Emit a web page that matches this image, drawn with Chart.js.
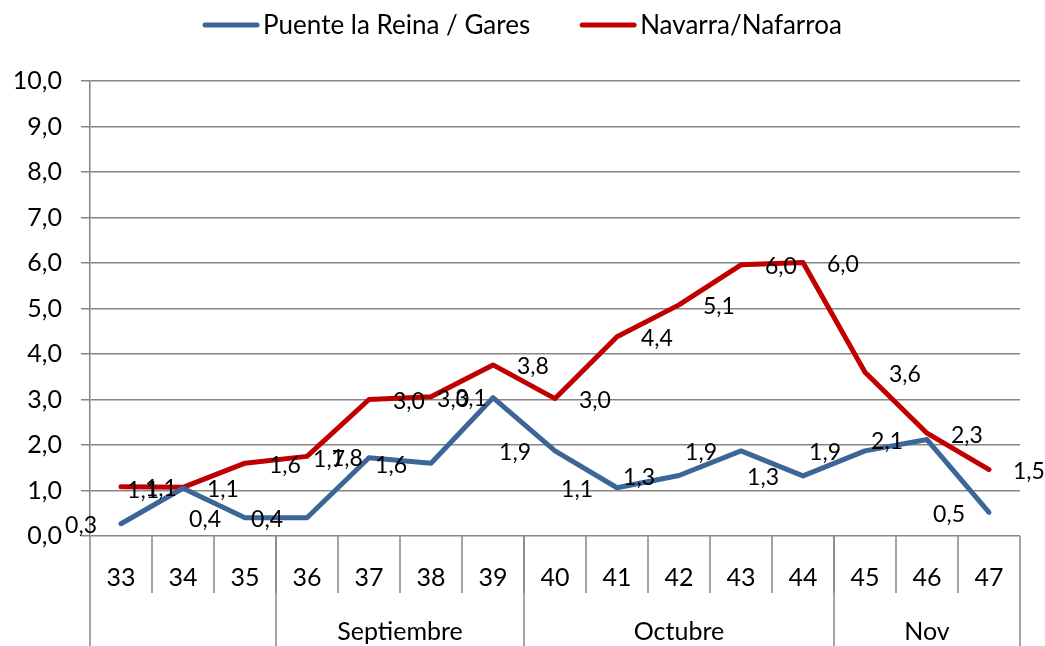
<!DOCTYPE html>
<html>
<head>
<meta charset="utf-8">
<script src="https://cdn.jsdelivr.net/npm/chart.js@4/dist/chart.umd.min.js"></script>
<style>
  html, body { margin: 0; padding: 0; background: #fff; }
  #wrap { width: 1045px; height: 646px; position: relative; }
</style>
</head>
<body>
<div id="wrap"><canvas id="chart"></canvas></div>
<script>
// Week numbers and the month groups below them
const weeks = ['33', '34', '35', '36', '37', '38', '39', '40', '41', '42', '43', '44', '45', '46', '47'];
const monthLabels = ['', 'Septiembre', 'Octubre', 'Nov'];
const monthSpans = [3, 4, 5, 3];

// Series values
const puenteLaReina = [0.27, 1.05, 0.4, 0.4, 1.72, 1.6, 3.04, 1.87, 1.06, 1.33, 1.87, 1.32, 1.87, 2.12, 0.52];
const navarra = [1.08, 1.07, 1.6, 1.75, 3.0, 3.06, 3.76, 3.02, 4.38, 5.08, 5.96, 6.01, 3.6, 2.26, 1.46];

const yTicks = [0, 1, 2, 3, 4, 5, 6, 7, 8, 9, 10];

const FONT = 'Lato, "Open Sans", sans-serif';
const GRID = '#868686';

function fmt(v) {
  return v.toFixed(1).replace('.', ',');
}

// legend drawn by hand so the gap under it matches
const topLegend = {
  id: 'topLegend',
  afterDraw(chart) {
    const ctx = chart.ctx;
    const sets = chart.data.datasets;
    ctx.save();
    ctx.font = '26px ' + FONT;
    ctx.textBaseline = 'middle';
    ctx.textAlign = 'left';
    const lineW = 56, gap = 4, between = 50;
    const widths = sets.map(ds => ctx.measureText(ds.label).width);
    let total = 0;
    widths.forEach((w, i) => { total += lineW + gap + w + (i ? between : 0); });
    let x = (chart.width - total) / 2;
    const y = 25;
    sets.forEach((ds, i) => {
      ctx.strokeStyle = ds.borderColor;
      ctx.lineWidth = 5;
      ctx.lineCap = 'round';
      ctx.beginPath();
      ctx.moveTo(x + 2, y);
      ctx.lineTo(x + lineW - 2, y);
      ctx.stroke();
      ctx.fillStyle = '#000';
      ctx.fillText(ds.label, x + lineW + gap, y + 1);
      x += lineW + gap + widths[i] + between;
    });
    ctx.restore();
  }
};

// value labels: blue to the left of the point, red to the right
const valueLabels = {
  id: 'valueLabels',
  afterDatasetsDraw(chart) {
    const ctx = chart.ctx;
    ctx.save();
    ctx.font = '23px ' + FONT;
    ctx.fillStyle = '#000';
    ctx.textBaseline = 'middle';
    chart.data.datasets.forEach((ds, i) => {
      const meta = chart.getDatasetMeta(i);
      meta.data.forEach((pt, j) => {
        const txt = fmt(ds.data[j]);
        if (i === 0) {
          ctx.textAlign = 'right';
          ctx.fillText(txt, pt.x - 24, pt.y + 2);
        } else {
          ctx.textAlign = 'left';
          ctx.fillText(txt, pt.x + 24, pt.y + 2);
        }
      });
    });
    ctx.restore();
  }
};

// two level category axis like the spreadsheet one
const groupAxis = {
  id: 'groupAxis',
  afterDraw(chart) {
    const ctx = chart.ctx;
    const x = chart.scales.x;
    const area = chart.chartArea;
    const half = (x.getPixelForValue(1) - x.getPixelForValue(0)) / 2;
    const rowBottom = area.bottom + 57;
    const bottom = chart.height;
    ctx.save();
    ctx.strokeStyle = GRID;
    ctx.lineWidth = 1.5;
    ctx.fillStyle = '#000';
    ctx.font = '25px ' + FONT;
    ctx.textAlign = 'center';
    ctx.textBaseline = 'middle';

    // week separators and labels
    weeks.forEach((w, i) => {
      const cx = x.getPixelForValue(i);
      ctx.fillText(w, cx, area.bottom + 42);
      if (i > 0) {
        ctx.beginPath();
        ctx.moveTo(cx - half, area.bottom);
        ctx.lineTo(cx - half, rowBottom);
        ctx.stroke();
      }
    });

    // month groups
    let start = 0;
    monthSpans.forEach((n, g) => {
      const left = x.getPixelForValue(start) - half;
      const right = x.getPixelForValue(start + n - 1) + half;
      ctx.beginPath();
      ctx.moveTo(left, area.bottom);
      ctx.lineTo(left, bottom);
      ctx.stroke();
      if (g === monthSpans.length - 1) {
        ctx.beginPath();
        ctx.moveTo(right, area.bottom);
        ctx.lineTo(right, bottom);
        ctx.stroke();
      }
      ctx.fillText(monthLabels[g], (left + right) / 2, area.bottom + 96);
      start += n;
    });
    ctx.restore();
  }
};

new Chart(document.getElementById('chart'), {
  type: 'line',
  data: {
    labels: weeks,
    datasets: [
      {
        label: 'Puente la Reina / Gares',
        data: puenteLaReina,
        borderColor: '#3C6698',
        backgroundColor: '#3C6698',
        borderWidth: 5,
        pointRadius: 0,
        tension: 0,
        borderJoinStyle: 'round',
        borderCapStyle: 'round'
      },
      {
        label: 'Navarra/Nafarroa',
        data: navarra,
        borderColor: '#C00000',
        backgroundColor: '#C00000',
        borderWidth: 5,
        pointRadius: 0,
        tension: 0,
        borderJoinStyle: 'round',
        borderCapStyle: 'round'
      }
    ]
  },
  options: {
    responsive: true,
    maintainAspectRatio: false,
    animation: false,
    layout: { padding: { top: 81, right: 25, left: 0, bottom: 0 } },
    plugins: {
      legend: { display: false },
      tooltip: { enabled: false }
    },
    scales: {
      x: {
        offset: true,
        ticks: { display: false },
        grid: { display: false },
        border: { display: false },
        afterFit(scale) { scale.height = 110; }
      },
      y: {
        min: 0,
        max: 10,
        afterBuildTicks(scale) { scale.ticks = yTicks.map(v => ({ value: v })); },
        ticks: {
          color: '#000',
          font: { family: FONT, size: 25 },
          padding: 19,
          callback: v => fmt(v)
        },
        grid: { color: GRID, lineWidth: 1.5, tickLength: 9 },
        border: { color: GRID, width: 1.5 },
        afterFit(scale) { scale.width = 90; }
      }
    }
  },
  plugins: [valueLabels, groupAxis, topLegend]
});
</script>
</body>
</html>
